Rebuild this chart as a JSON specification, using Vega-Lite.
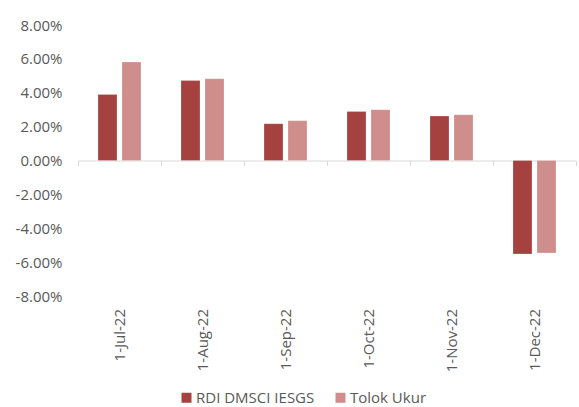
{
  "$schema": "https://vega.github.io/schema/vega-lite/v6.json",
  "width": 498,
  "height": 271,
  "autosize": "none",
  "padding": {"left": 78, "top": 25, "right": 3, "bottom": 111},
  "background": "#ffffff",
  "config": {
    "view": {"stroke": null},
    "font": "Open Sans",
    "axis": {"labelColor": "#595959", "labelFontSize": 15, "title": null},
    "legend": {"labelColor": "#595959", "labelFontSize": 15}
  },
  "data": {
    "values": [
      {"date": "1-Jul-22", "series": "RDI DMSCI IESGS", "value": 0.039},
      {"date": "1-Jul-22", "series": "Tolok Ukur", "value": 0.0582},
      {"date": "1-Aug-22", "series": "RDI DMSCI IESGS", "value": 0.0472},
      {"date": "1-Aug-22", "series": "Tolok Ukur", "value": 0.0483},
      {"date": "1-Sep-22", "series": "RDI DMSCI IESGS", "value": 0.0217},
      {"date": "1-Sep-22", "series": "Tolok Ukur", "value": 0.0235},
      {"date": "1-Oct-22", "series": "RDI DMSCI IESGS", "value": 0.029},
      {"date": "1-Oct-22", "series": "Tolok Ukur", "value": 0.030},
      {"date": "1-Nov-22", "series": "RDI DMSCI IESGS", "value": 0.0262},
      {"date": "1-Nov-22", "series": "Tolok Ukur", "value": 0.027},
      {"date": "1-Dec-22", "series": "RDI DMSCI IESGS", "value": -0.0552},
      {"date": "1-Dec-22", "series": "Tolok Ukur", "value": -0.0546}
    ]
  },
  "mark": {"type": "bar", "stroke": "#ffffff", "strokeOpacity": 0.4, "strokeWidth": 0.6},
  "encoding": {
    "x": {
      "field": "date",
      "type": "nominal",
      "sort": null,
      "scale": {"paddingInner": 0, "paddingOuter": 0},
      "axis": {
        "orient": "bottom",
        "offset": -135.5,
        "labelAngle": -90,
        "bandPosition": 1,
        "tickExtra": true,
        "labelPadding": 143,
        "domainColor": "#D9D9D9",
        "tickColor": "#D9D9D9",
        "tickSize": 5,
        "domainWidth": 1,
        "tickWidth": 1
      }
    },
    "xOffset": {
      "field": "series",
      "type": "nominal",
      "sort": null,
      "scale": {"paddingInner": 0.208, "paddingOuter": 0.833}
    },
    "y": {
      "field": "value",
      "type": "quantitative",
      "scale": {"domain": [-0.08, 0.08], "nice": false},
      "axis": {
        "values": [-0.08, -0.06, -0.04, -0.02, 0, 0.02, 0.04, 0.06, 0.08],
        "labelExpr": "replace(format(datum.value, '.2%'), '\u2212', '-')",
        "grid": false,
        "domain": false,
        "ticks": false,
        "labelPadding": 16
      }
    },
    "color": {
      "field": "series",
      "type": "nominal",
      "sort": null,
      "scale": {"range": ["#A5423F", "#CF8D8C"]},
      "legend": {
        "title": null,
        "orient": "none",
        "legendX": 101,
        "legendY": 365,
        "direction": "horizontal",
        "symbolType": "square",
        "symbolSize": 100,
        "symbolStrokeWidth": 0,
        "labelOffset": 2,
        "columnPadding": 18
      }
    }
  }
}
